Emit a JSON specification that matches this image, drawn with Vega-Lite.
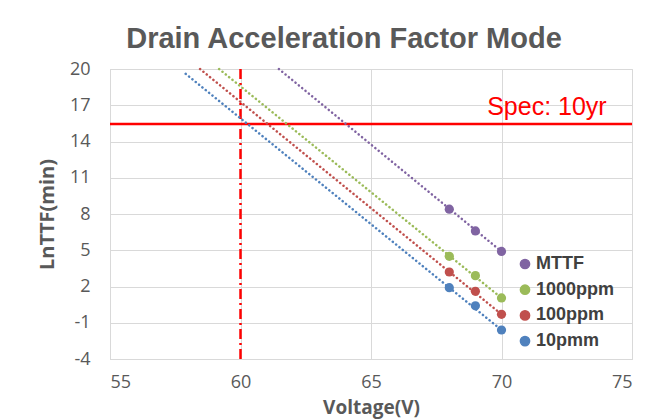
{
  "$schema": "https://vega.github.io/schema/vega-lite/v6.json",
  "width": 522,
  "height": 290,
  "autosize": "none",
  "padding": {"left": 110, "top": 69, "right": 33, "bottom": 60},
  "background": "white",
  "title": {
    "text": "Drain Acceleration Factor Mode",
    "font": "Liberation Sans",
    "fontSize": 29,
    "fontWeight": "bold",
    "color": "#595959",
    "anchor": "middle",
    "dx": -27,
    "baseline": "alphabetic",
    "offset": -17
  },
  "datasets": {
    "points": [
      {"series": "MTTF", "voltage": 68, "lnttf": 8.4},
      {"series": "MTTF", "voltage": 69, "lnttf": 6.6},
      {"series": "MTTF", "voltage": 70, "lnttf": 4.9},
      {"series": "1000ppm", "voltage": 68, "lnttf": 4.5},
      {"series": "1000ppm", "voltage": 69, "lnttf": 2.9},
      {"series": "1000ppm", "voltage": 70, "lnttf": 1.05},
      {"series": "100ppm", "voltage": 68, "lnttf": 3.2},
      {"series": "100ppm", "voltage": 69, "lnttf": 1.6},
      {"series": "100ppm", "voltage": 70, "lnttf": -0.3},
      {"series": "10pmm", "voltage": 68, "lnttf": 1.9},
      {"series": "10pmm", "voltage": 69, "lnttf": 0.4},
      {"series": "10pmm", "voltage": 70, "lnttf": -1.6}
    ],
    "trend": [
      {"trendSeries": "MTTF", "voltage": 61.47, "lnttf": 20},
      {"trendSeries": "MTTF", "voltage": 70, "lnttf": 4.9},
      {"trendSeries": "1000ppm", "voltage": 59.18, "lnttf": 20},
      {"trendSeries": "1000ppm", "voltage": 70, "lnttf": 1.05},
      {"trendSeries": "100ppm", "voltage": 58.45, "lnttf": 20},
      {"trendSeries": "100ppm", "voltage": 70, "lnttf": -0.3},
      {"trendSeries": "10pmm", "voltage": 57.9, "lnttf": 19.6},
      {"trendSeries": "10pmm", "voltage": 70, "lnttf": -1.6}
    ],
    "spec": [{"lnttf": 15.45, "voltage": 69.45, "label": "Spec: 10yr", "textY": 16.2}],
    "vline": [{"voltage": 60}]
  },
  "layer": [
    {
      "data": {"name": "points"},
      "mark": {"type": "point", "filled": true, "size": 85, "opacity": 1, "shape": "circle"},
      "encoding": {
        "x": {
          "field": "voltage", "type": "quantitative", "title": "Voltage(V)",
          "scale": {"domain": [55, 75], "nice": false, "zero": false},
          "axis": {"values": [55, 60, 65, 70, 75], "tickCount": 10, "title": "Voltage(V)", "labelOverlap": false, "titleFontSize": 19}
        },
        "y": {
          "field": "lnttf", "type": "quantitative", "title": "LnTTF(min)",
          "scale": {"domain": [-4, 20], "nice": false, "zero": false},
          "axis": {"values": [-4, -1, 2, 5, 8, 11, 14, 17, 20], "tickCount": 20, "title": "LnTTF(min)", "labelOverlap": false, "labelExpr": "'' + datum.value", "titleFontSize": 20}
        },
        "color": {
          "field": "series", "type": "nominal",
          "scale": {"domain": ["MTTF", "1000ppm", "100ppm", "10pmm"], "range": ["#8064A2", "#9BBB59", "#C0504D", "#4F81BD"]},
          "legend": {
            "title": null,
            "orient": "none",
            "legendX": 406,
            "legendY": 186,
            "symbolType": "circle",
            "symbolSize": 85,
            "labelFont": "Liberation Sans",
            "labelFontSize": 18,
            "labelFontWeight": "bold",
            "labelColor": "#404040",
            "labelOffset": 2,
            "rowPadding": 7.7
          }
        }
      }
    },
    {
      "data": {"name": "vline"},
      "mark": {"type": "rule", "color": "#ff0000", "strokeWidth": 2.5, "strokeDash": [10, 4, 2, 4]},
      "encoding": {
        "x": {"field": "voltage", "type": "quantitative"}
      }
    },
    {
      "data": {"name": "spec"},
      "mark": {"type": "rule", "color": "#ff0000", "strokeWidth": 2.5},
      "encoding": {
        "y": {"field": "lnttf", "type": "quantitative"}
      }
    },
    {
      "data": {"name": "spec"},
      "mark": {"type": "text", "color": "#ff0000", "font": "Liberation Sans", "fontSize": 25, "align": "left", "baseline": "alphabetic"},
      "encoding": {
        "x": {"field": "voltage", "type": "quantitative"},
        "y": {"field": "textY", "type": "quantitative"},
        "text": {"field": "label"}
      }
    },
    {
      "data": {"name": "trend"},
      "mark": {"type": "line", "strokeWidth": 2.5, "strokeDash": [0.1, 4.2], "strokeCap": "round"},
      "encoding": {
        "x": {"field": "voltage", "type": "quantitative"},
        "y": {"field": "lnttf", "type": "quantitative"},
        "detail": {"field": "trendSeries"},
        "stroke": {
          "field": "trendSeries", "type": "nominal", "legend": null,
          "scale": {"domain": ["MTTF", "1000ppm", "100ppm", "10pmm"], "range": ["#8064A2", "#9BBB59", "#C0504D", "#4F81BD"]}
        }
      }
    }
  ],
  "config": {
    "view": {"stroke": "#d9d9d9", "strokeWidth": 1},
    "axis": {
      "grid": true,
      "gridColor": "#d9d9d9",
      "gridWidth": 1,
      "domainColor": "#d9d9d9",
      "ticks": false,
      "labelOverlap": false,
      "labelFont": "Open Sans",
      "labelFontSize": 18,
      "labelColor": "#595959",
      "titleFont": "Open Sans",
      "titleFontWeight": "bold",
      "titleColor": "#595959"
    },
    "axisX": {"labelPadding": 14, "titlePadding": 7},
    "axisY": {"labelPadding": 20, "titlePadding": 12}
  }
}
